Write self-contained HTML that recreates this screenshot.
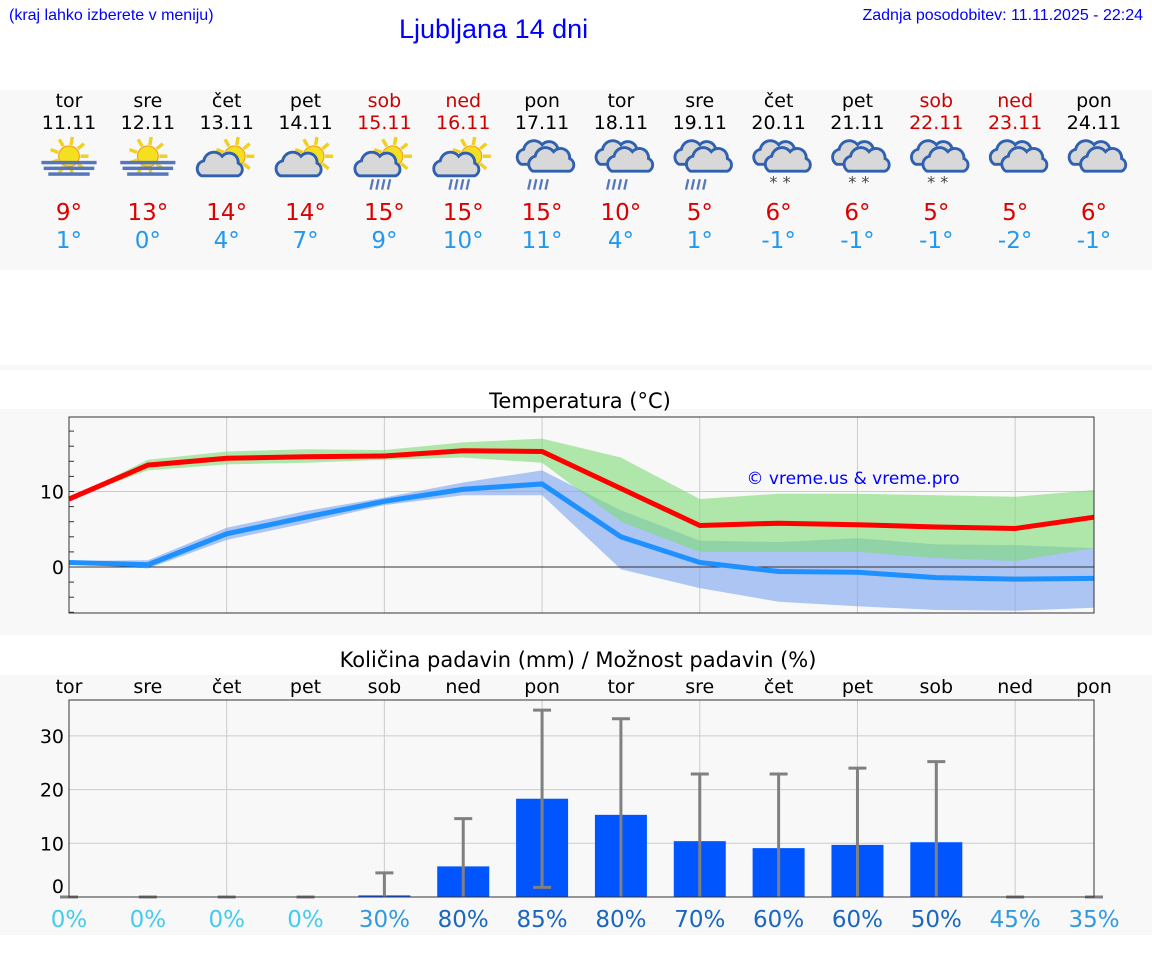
<!DOCTYPE html>
<html><head><meta charset="utf-8"><style>
body{margin:0;width:1152px;height:975px;background:#fff;font-family:"DejaVu Sans","Liberation Sans",sans-serif;overflow:hidden;position:relative}
.abs{position:absolute}
</style></head><body>
<div class="abs" style="left:9px;top:7px;font:16px 'Liberation Sans',sans-serif;color:#00f">(kraj lahko izberete v meniju)</div>
<div class="abs" style="left:399px;top:14px;font:27px 'Liberation Sans',sans-serif;color:#00f">Ljubljana 14 dni</div>
<div class="abs" style="right:9px;top:7px;font:16px 'Liberation Sans',sans-serif;color:#00f">Zadnja posodobitev: 11.11.2025 - 22:24</div>
<div class="abs" style="left:0;top:90px;width:1152px;height:180px;background:#f8f8f8"></div>
<div class="abs" style="left:0;top:365px;width:1152px;height:5px;background:#f8f8f8"></div>
<div class="abs" style="left:0;top:409px;width:1152px;height:226px;background:#f8f8f8"></div>
<div class="abs" style="left:0;top:675px;width:1152px;height:260px;background:#f8f8f8"></div>
<svg id="svg" class="abs" style="left:0;top:0" width="1152" height="975"></svg>
<script>
const days=["tor","sre","čet","pet","sob","ned","pon","tor","sre","čet","pet","sob","ned","pon"];
const dates=["11.11","12.11","13.11","14.11","15.11","16.11","17.11","18.11","19.11","20.11","21.11","22.11","23.11","24.11"];
const icons=["fogsun","fogsun","part","part","partrain","partrain","rain","rain","rain","snow","snow","snow","cloud","cloud"];
const tmax=[9,13.5,14.4,14.6,14.7,15.4,15.3,10.4,5.5,5.8,5.6,5.3,5.1,6.6];
const tmin=[0.6,0.3,4.4,6.6,8.7,10.3,11,4,0.6,-0.6,-0.7,-1.4,-1.6,-1.5];
const maxHi=[9,14.2,15.3,15.6,15.5,16.5,17,14.5,9,9.7,9.7,9.5,9.3,10.2];
const maxLo=[9,12.8,13.6,13.8,14.2,14.5,13.8,6,2,2,2,1.2,0.8,2.5];
const minHi=[0.8,0.9,5.2,7.4,9.2,11.2,12.8,7.5,3.5,3.3,3.8,3,2.9,2.5];
const minLo=[0.6,-0.2,3.6,5.8,8.2,9.5,9.5,-0.3,-2.8,-4.6,-5.2,-5.7,-5.8,-5.4];
const hiLabels=["9°","13°","14°","14°","15°","15°","15°","10°","5°","6°","6°","5°","5°","6°"];
const loLabels=["1°","0°","4°","7°","9°","10°","11°","4°","1°","-1°","-1°","-1°","-2°","-1°"];
const precip=[0,0,0,0,0.3,5.7,18.3,15.3,10.4,9.1,9.7,10.2,0,0];
const errHi=[0,0,0,0,4.5,14.6,34.8,33.2,22.9,22.9,24,25.2,0,0];
const errLo=[0,0,0,0,0,0,1.8,0,0,0,0,0,0,0];
const prob=[0,0,0,0,30,80,85,80,70,60,60,50,45,35];
const tTicks=[0,10];const pTicks=[0,10,20,30];

const S=document.getElementById('svg');const NS="http://www.w3.org/2000/svg";
function el(t,a,p){const e=document.createElementNS(NS,t);for(const k in a)e.setAttribute(k,a[k]);(p||S).appendChild(e);return e;}
const X=i=>69+i*(1094-69)/13;
const TY=v=>567-v*7.55;
const PY=v=>897-v*5.37;
days.forEach((d,i)=>{const we=(i%7==4||i%7==5);const c=we?'#cc0000':'#000';
 let t=el('text',{x:X(i),y:107,'text-anchor':'middle','font-size':19,fill:c});t.textContent=d;
 
 t=el('text',{x:X(i),y:129,'text-anchor':'middle','font-size':19,fill:c});t.textContent=dates[i];
 
 t=el('text',{x:X(i),y:220,'text-anchor':'middle','font-size':23,fill:'#dd0000'});t.textContent=hiLabels[i];
 
 t=el('text',{x:X(i),y:248,'text-anchor':'middle','font-size':23,fill:'#2299ee'});t.textContent=loLabels[i];
 
 const g=el('g',{transform:`translate(${X(i)},162) scale(1.15)`});
 
 const ic=icons[i];
 function sun(cx,cy){for(let a=0;a<360;a+=40){const r=a*Math.PI/180;el('line',{x1:cx+Math.cos(r)*10,y1:cy+Math.sin(r)*10,x2:cx+Math.cos(r)*17,y2:cy+Math.sin(r)*17,stroke:'#f0d020','stroke-width':3},g);}el('circle',{cx,cy,r:9,fill:'#f5e020',stroke:'#f0a020'},g);}
 function cloud(cx,cy,s){el('path',{d:`M${cx-16*s},${cy+8*s} a7 7 0 0 1 2,-13 a9 9 0 0 1 16,-4 a8 8 0 0 1 14,6 a6 6 0 0 1 0,11 z`,fill:'#d8d8d8',stroke:'#3060b0','stroke-width':2.5},g);}
 if(ic=='fogsun'){sun(0,-5);[[-24,-1,48],[-22,4,44],[-18,9,36]].forEach(r=>el('rect',{x:r[0],y:r[1],width:r[2],height:3,fill:'#5577bb'},g));}
 if(ic=='part'||ic=='partrain'){sun(7,-5);cloud(-6,4,1);}
 if(ic=='rain'||ic=='snow'||ic=='cloud'){cloud(-2,-6,1);cloud(8,0,1);}
 if(ic=='partrain'||ic=='rain'){for(let k=0;k<4;k++)el('line',{x1:-10+k*5,y1:15,x2:-12+k*5,y2:24,stroke:'#5577bb','stroke-width':2},g);}
 if(ic=='snow'){el('text',{x:-8,y:22,'font-size':14,fill:'#444'},g).textContent='* *';}
});
let t=el('text',{x:580,y:408,'text-anchor':'middle','font-size':21});t.textContent='Temperatura (°C)';

[2,4,6,8,10,12].forEach(i=>el('line',{x1:X(i),y1:417,x2:X(i),y2:613,stroke:'#ccc'}));
el('line',{x1:69,y1:TY(10),x2:1094,y2:TY(10),stroke:'#ccc'});
function band(hi,lo,c,op,name){let d='M'+hi.map((v,i)=>X(i)+','+TY(v)).join(' L')+' L'+lo.map((v,i)=>X(i)+','+TY(v)).reverse().join(' L')+'Z';
 const p=el('path',{d,fill:c,'fill-opacity':op});}
band(minHi,minLo,'#7aa4f0',0.6,'min-temp-range');
band(maxHi,maxLo,'#7ddc74',0.6,'max-temp-range');
el('line',{x1:69,y1:TY(0),x2:1094,y2:TY(0),stroke:'#333'});
function line(a,c,name){const p=el('polyline',{points:a.map((v,i)=>X(i)+','+TY(v)).join(' '),fill:'none',stroke:c,'stroke-width':5});}
line(tmin,'#1e90ff','min-temp-line');line(tmax,'#ff0000','max-temp-line');
el('rect',{x:69,y:417,width:1025,height:196,fill:'none',stroke:'#333'});
for(let v=-6;v<=20;v+=2){const y=TY(v);if(y>417&&y<613)el('line',{x1:69,y1:y,x2:74,y2:y,stroke:'#333'});}
tTicks.forEach(v=>{const t=el('text',{x:64,y:TY(v)+7,'text-anchor':'end','font-size':19});t.textContent=v;});
t=el('text',{x:853,y:484,'text-anchor':'middle','font-size':17,fill:'#00f'});t.textContent='© vreme.us & vreme.pro';

t=el('text',{x:578,y:667,'text-anchor':'middle','font-size':21});t.textContent='Količina padavin (mm) / Možnost padavin (%)';

days.forEach((d,i)=>{const t=el('text',{x:X(i),y:693,'text-anchor':'middle','font-size':19});t.textContent=d;});
[2,4,6,8,10,12].forEach(i=>el('line',{x1:X(i),y1:700,x2:X(i),y2:897,stroke:'#ccc'}));
pTicks.slice(1).forEach(v=>el('line',{x1:69,y1:PY(v),x2:1094,y2:PY(v),stroke:'#ccc'}));
precip.forEach((v,i)=>{if(v>0){const r=el('rect',{x:X(i)-26,y:PY(v),width:52,height:PY(0)-PY(v),fill:'#0055ff'});}
 const g=el('g',{stroke:'#808080','stroke-width':3});
 el('line',{x1:X(i),y1:PY(errLo[i]),x2:X(i),y2:PY(errHi[i])},g);
 el('line',{x1:X(i)-9,y1:PY(errHi[i]),x2:X(i)+9,y2:PY(errHi[i])},g);
 if(errLo[i]>0)el('line',{x1:X(i)-9,y1:PY(errLo[i]),x2:X(i)+9,y2:PY(errLo[i])},g);
 const col=prob[i]==0?'#44ccee':prob[i]<50?'#3399dd':'#1a66c0';
 const t=el('text',{x:X(i),y:927,'text-anchor':'middle','font-size':23,fill:col});t.textContent=prob[i]+'%';
 });
el('rect',{x:69,y:700,width:1025,height:197,fill:'none',stroke:'#333'});
pTicks.forEach(v=>{const t=el('text',{x:64,y:PY(v)+(v==0?-4:7),'text-anchor':'end','font-size':19});t.textContent=v;});
</script>
</body></html>
